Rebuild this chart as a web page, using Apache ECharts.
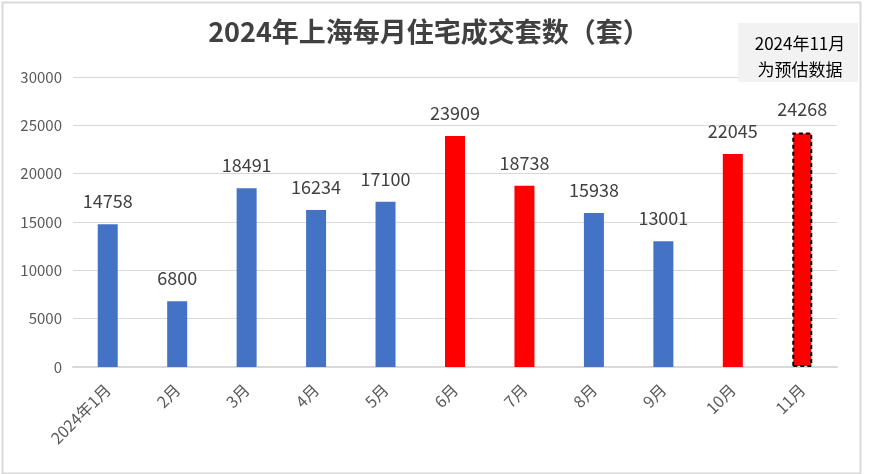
<!DOCTYPE html>
<html><head><meta charset="utf-8">
<script src="https://cdn.jsdelivr.net/npm/echarts@6/dist/echarts.min.js"></script>
<style>html,body{margin:0;padding:0;background:#fff}#c{width:873px;height:474px}</style>
</head><body><div id="c"></div>
<script>
const categories = ['2024年1月','2月','3月','4月','5月','6月','7月','8月','9月','10月','11月'];
const values = [14758, 6800, 18491, 16234, 17100, 23909, 18738, 15938, 13001, 22045, 24268];
const highlighted = [false,false,false,false,false,true,true,false,false,true,true];
const estimated = [false,false,false,false,false,false,false,false,false,false,true];
const yTicks = [0,5000,10000,15000,20000,25000,30000];

const font = '"Noto Sans CJK SC", "Microsoft YaHei", sans-serif';
const chart = echarts.init(document.getElementById('c'));
chart.setOption({
  animation: false,
  backgroundColor: '#fff',
  title: {
    text: '2024年上海每月住宅成交套数（套）',
    left: 424, top: 13, textAlign: 'center',
    textStyle: { fontFamily: font, fontSize: 27, fontWeight: 'bold', color: '#404040' }
  },
  grid: { left: 73, right: 36, top: 77, bottom: 107 },
  xAxis: {
    type: 'category', data: categories,
    axisLine: { lineStyle: { color: '#d9d9d9', width: 2 } },
    axisTick: { show: false },
    axisLabel: { rotate: 45, color: '#595959', fontSize: 16, fontFamily: font, margin: 20, interval: 0 }
  },
  yAxis: {
    type: 'value', min: yTicks[0], max: yTicks[yTicks.length-1], interval: 5000,
    axisLine: { show: false }, axisTick: { show: false },
    splitLine: { lineStyle: { color: '#d9d9d9', width: 1 } },
    axisLabel: { color: '#595959', fontSize: 15, fontFamily: font, margin: 11, formatter: v => String(v) }
  },
  graphic: [
    { type: 'rect', left: 0, top: 0, z: -1, shape: { x: 1, y: 1, width: 858, height: 471 },
      style: { fill: 'none', stroke: '#d9d9d9', lineWidth: 2 } },
    { type: 'rect', z: 10, shape: { x: 738, y: 23, width: 120, height: 59 },
      style: { fill: '#f2f2f2' } },
    { type: 'text', z: 11, x: 800, y: 57, style: { text: '2024年11月\n为预估数据', fill: '#000',
      font: '17px ' + font, align: 'center', verticalAlign: 'middle', lineHeight: 26 } }
  ],
  series: [{
    type: 'bar', barWidth: 20,
    data: values.map((v, i) => ({
      value: v,
      itemStyle: estimated[i]
        ? { color: '#ff0000', borderColor: '#000', borderWidth: 2, borderType: [4, 3] }
        : { color: highlighted[i] ? '#ff0000' : '#4472c4' }
    })),
    label: { show: true, position: 'top', distance: 14, color: '#404040', fontSize: 18, fontFamily: font }
  }]
});
</script></body></html>
